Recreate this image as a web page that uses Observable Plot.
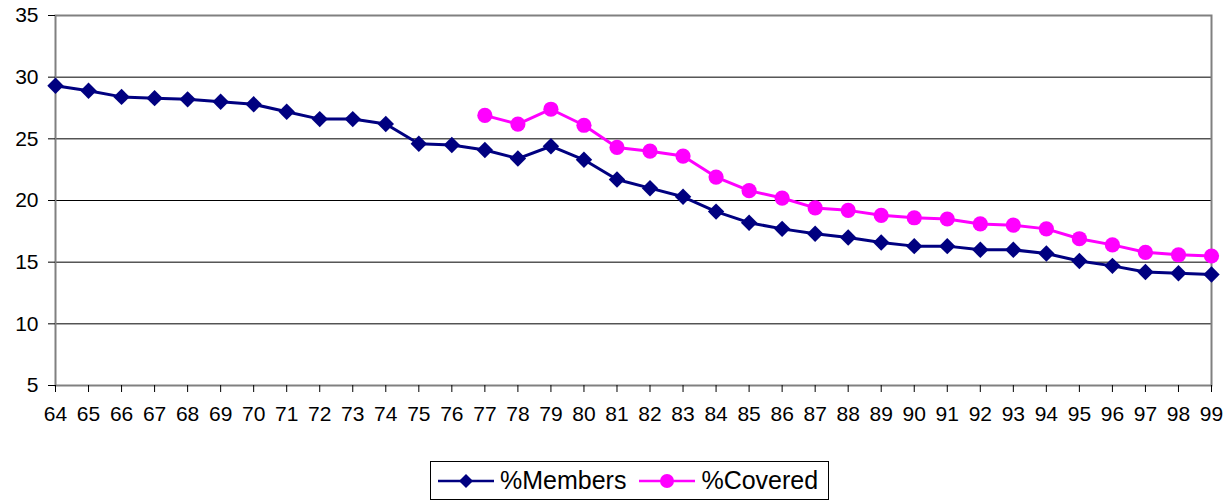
<!DOCTYPE html>
<html>
<head>
<meta charset="utf-8">
<script src="https://cdn.jsdelivr.net/npm/d3@7"></script>
<script src="https://cdn.jsdelivr.net/npm/@observablehq/plot@0.6"></script>
<style>
body { margin: 0; background: #fff; font-family: "Liberation Sans", Arial, sans-serif; }
#legend { position: absolute; left: 430px; top: 461px; width: 397px; height: 37px; border: 1px solid #000; display: flex; align-items: center; font-size: 25px; color: #000; box-sizing: content-box; }
#legend .item { display: flex; align-items: center; }
#legend svg { display: block; }
</style>
</head>
<body>
<div id="chart"></div>
<div id="legend"></div>
<script>
const yearsMembers = [64,65,66,67,68,69,70,71,72,73,74,75,76,77,78,79,80,81,82,83,84,85,86,87,88,89,90,91,92,93,94,95,96,97,98,99];
const members = [29.3,28.9,28.4,28.3,28.2,28.0,27.8,27.2,26.6,26.6,26.2,24.6,24.5,24.1,23.4,24.4,23.3,21.7,21.0,20.3,19.1,18.2,17.7,17.3,17.0,16.6,16.3,16.3,16.0,16.0,15.7,15.1,14.7,14.2,14.1,14.0];
const yearsCovered = [77,78,79,80,81,82,83,84,85,86,87,88,89,90,91,92,93,94,95,96,97,98,99];
const covered = [26.9,26.2,27.4,26.1,24.3,24.0,23.6,21.9,20.8,20.2,19.4,19.2,18.8,18.6,18.5,18.1,18.0,17.7,16.9,16.4,15.8,15.6,15.5];
const xTicks = [64,65,66,67,68,69,70,71,72,73,74,75,76,77,78,79,80,81,82,83,84,85,86,87,88,89,90,91,92,93,94,95,96,97,98,99];
const yTicks = [5,10,15,20,25,30,35];
const seriesNames = ["%Members", "%Covered"];
const colors = ["#000080", "#FF00FF"];

const mData = yearsMembers.map((x, i) => ({x, y: members[i]}));
const cData = yearsCovered.map((x, i) => ({x, y: covered[i]}));

const chart = Plot.plot({
  width: 1227,
  height: 435,
  marginLeft: 55,
  marginRight: 16,
  marginTop: 15,
  marginBottom: 50,
  style: { fontFamily: "'Liberation Sans', Arial, sans-serif", fontSize: "21px", color: "#000", background: "#fff", overflow: "visible" },
  x: { domain: [64, 99], ticks: xTicks, tickFormat: d => String(d), label: null, tickSize: 7, tickPadding: 14 },
  y: { domain: [5, 35], ticks: yTicks, label: null, tickSize: 7, tickPadding: 10 },
  marks: [
    Plot.ruleY(yTicks.filter(d => d > 5 && d < 35), { stroke: "#000", strokeWidth: 1 }),
    Plot.frame({ stroke: "#808080", strokeWidth: 2 }),
    Plot.axisX({ ticks: xTicks, tickFormat: d => String(d), tickSize: 7, tickPadding: 14, stroke: "#000", fontSize: 21 }),
    Plot.axisY({ ticks: yTicks, tickSize: 7, tickPadding: 10, stroke: "#000", fontSize: 21 }),
    Plot.line(mData, { x: "x", y: "y", stroke: colors[0], strokeWidth: 3 }),
    Plot.dot(mData, { x: "x", y: "y", symbol: "diamond2", r: 7.4, fill: colors[0], stroke: "none" }),
    Plot.line(cData, { x: "x", y: "y", stroke: colors[1], strokeWidth: 3 }),
    Plot.dot(cData, { x: "x", y: "y", symbol: "circle", r: 7.6, fill: colors[1], stroke: "none" })
  ]
});
document.getElementById("chart").appendChild(chart);

// Legend
const legend = d3.select("#legend");
seriesNames.forEach((name, i) => {
  const item = legend.append("div").attr("class", "item").style("margin-left", i === 0 ? "7px" : "13px");
  const s = item.append("svg").attr("width", 56).attr("height", 20);
  s.append("line").attr("x1", 0).attr("x2", 56).attr("y1", 10).attr("y2", 10).attr("stroke", colors[i]).attr("stroke-width", 2.5);
  if (i === 0) {
    s.append("path").attr("d", "M28,3L35,10L28,17L21,10Z").attr("fill", colors[i]);
  } else {
    s.append("circle").attr("cx", 28).attr("cy", 10).attr("r", 7).attr("fill", colors[i]);
  }
  item.append("span").style("margin-left", "6px").text(name);
});
</script>
</body>
</html>
